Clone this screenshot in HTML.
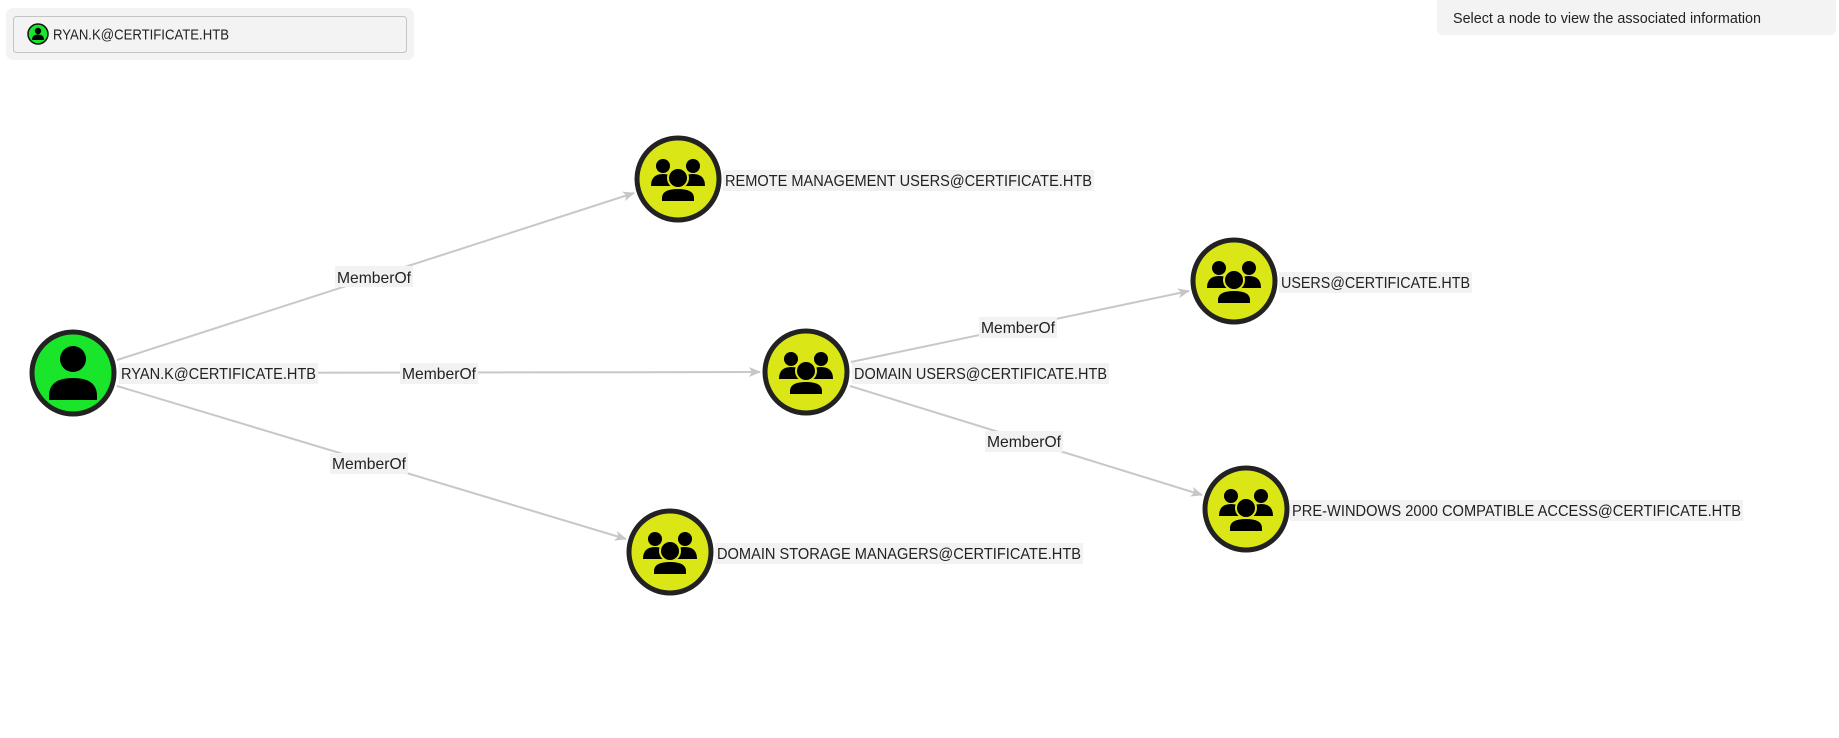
<!DOCTYPE html>
<html><head><meta charset="utf-8"><style>
html,body{margin:0;padding:0;background:#fff;width:1839px;height:738px;overflow:hidden;font-family:"Liberation Sans",sans-serif}
svg{position:absolute;left:0;top:0}
</style></head><body>
<svg width="1839" height="738" viewBox="0 0 1839 738" font-family="Liberation Sans, sans-serif">
<defs>
<marker id="a" markerUnits="userSpaceOnUse" markerWidth="12" markerHeight="10" refX="11" refY="5" orient="auto">
<path d="M0,0 L12,5 L0,10 L3,5 Z" fill="#c6c6c6"/>
</marker>
<g id="grp">
<circle cx="-15" cy="-13" r="7"/><circle cx="15" cy="-13" r="7"/>
<path d="M-27,7 Q-27,-5 -15,-5 Q-6,-5 -3,1 L-6,7 Z"/>
<path d="M27,7 Q27,-5 15,-5 Q6,-5 3,1 L6,7 Z"/>
<circle cx="0" cy="-1" r="10" stroke="#dbe617" stroke-width="2"/>
<path d="M-17,23 L-17,19 Q-17,9 0,9 Q17,9 17,19 L17,23 Z" stroke="#dbe617" stroke-width="2"/>
</g>
</defs>
<rect x="6" y="8" width="408" height="52" rx="7" fill="#f3f3f3"/>
<rect x="13.5" y="16.5" width="393" height="36" rx="3" fill="#f3f3f3" stroke="#c4c4c4"/>
<circle cx="38" cy="34" r="10" fill="#19e62a" stroke="#111" stroke-width="1.5"/>
<circle cx="38" cy="31" r="3.2"/><path d="M32,40 Q32,34.5 38,34.5 Q44,34.5 44,40 Z"/>
<text x="53" y="39.5" font-size="15" fill="#222" textLength="176" lengthAdjust="spacingAndGlyphs">RYAN.K@CERTIFICATE.HTB</text>
<rect x="1437" y="-6" width="399" height="41" rx="6" fill="#f3f3f3"/>
<text x="1453" y="23" font-size="15" fill="#222" textLength="308" lengthAdjust="spacingAndGlyphs">Select a node to view the associated information</text>
<g stroke="#c8c8c8" stroke-width="2" marker-end="url(#a)">
<line x1="117" y1="360" x2="634" y2="193"/>
<line x1="119" y1="373" x2="760" y2="372"/>
<line x1="117" y1="386" x2="626" y2="539"/>
<line x1="851" y1="362" x2="1189" y2="291"/>
<line x1="850" y1="386" x2="1202" y2="495"/>
</g>
<g font-size="16" fill="#222">
<rect x="335" y="266" width="78" height="21" fill="#f2f2f2"/><text x="337" y="283" textLength="74" lengthAdjust="spacingAndGlyphs">MemberOf</text>
<rect x="400" y="363" width="78" height="21" fill="#f2f2f2"/><text x="402" y="379" textLength="74" lengthAdjust="spacingAndGlyphs">MemberOf</text>
<rect x="330" y="453" width="78" height="21" fill="#f2f2f2"/><text x="332" y="469" textLength="74" lengthAdjust="spacingAndGlyphs">MemberOf</text>
<rect x="979" y="317" width="78" height="21" fill="#f2f2f2"/><text x="981" y="333" textLength="74" lengthAdjust="spacingAndGlyphs">MemberOf</text>
<rect x="985" y="431" width="78" height="21" fill="#f2f2f2"/><text x="987" y="447" textLength="74" lengthAdjust="spacingAndGlyphs">MemberOf</text>
</g>
<g stroke="#222" stroke-width="5">
<circle cx="73" cy="373" r="41" fill="#19e62a"/>
<circle cx="678" cy="179" r="41" fill="#dbe617"/>
<circle cx="1234" cy="281" r="41" fill="#dbe617"/>
<circle cx="806" cy="372" r="41" fill="#dbe617"/>
<circle cx="1246" cy="509" r="41" fill="#dbe617"/>
<circle cx="670" cy="552" r="41" fill="#dbe617"/>
</g>
<circle cx="73" cy="359" r="13"/>
<path d="M49,400 L49,396 Q49,378 73,378 Q97,378 97,396 L97,400 Z"/>
<use href="#grp" x="678" y="179"/>
<use href="#grp" x="1234" y="281"/>
<use href="#grp" x="806" y="372"/>
<use href="#grp" x="1246" y="509"/>
<use href="#grp" x="670" y="552"/>
<g font-size="16" fill="#222">
<rect x="119" y="363" width="199" height="21" fill="#f2f2f2"/><text x="121" y="379" textLength="195" lengthAdjust="spacingAndGlyphs">RYAN.K@CERTIFICATE.HTB</text>
<rect x="723" y="170" width="371" height="21" fill="#f2f2f2"/><text x="725" y="186" textLength="367" lengthAdjust="spacingAndGlyphs">REMOTE MANAGEMENT USERS@CERTIFICATE.HTB</text>
<rect x="1279" y="272" width="193" height="21" fill="#f2f2f2"/><text x="1281" y="288" textLength="189" lengthAdjust="spacingAndGlyphs">USERS@CERTIFICATE.HTB</text>
<rect x="852" y="363" width="257" height="21" fill="#f2f2f2"/><text x="854" y="379" textLength="253" lengthAdjust="spacingAndGlyphs">DOMAIN USERS@CERTIFICATE.HTB</text>
<rect x="1290" y="500" width="453" height="21" fill="#f2f2f2"/><text x="1292" y="516" textLength="449" lengthAdjust="spacingAndGlyphs">PRE-WINDOWS 2000 COMPATIBLE ACCESS@CERTIFICATE.HTB</text>
<rect x="715" y="543" width="368" height="21" fill="#f2f2f2"/><text x="717" y="559" textLength="364" lengthAdjust="spacingAndGlyphs">DOMAIN STORAGE MANAGERS@CERTIFICATE.HTB</text>
</g>
</svg>
</body></html>
